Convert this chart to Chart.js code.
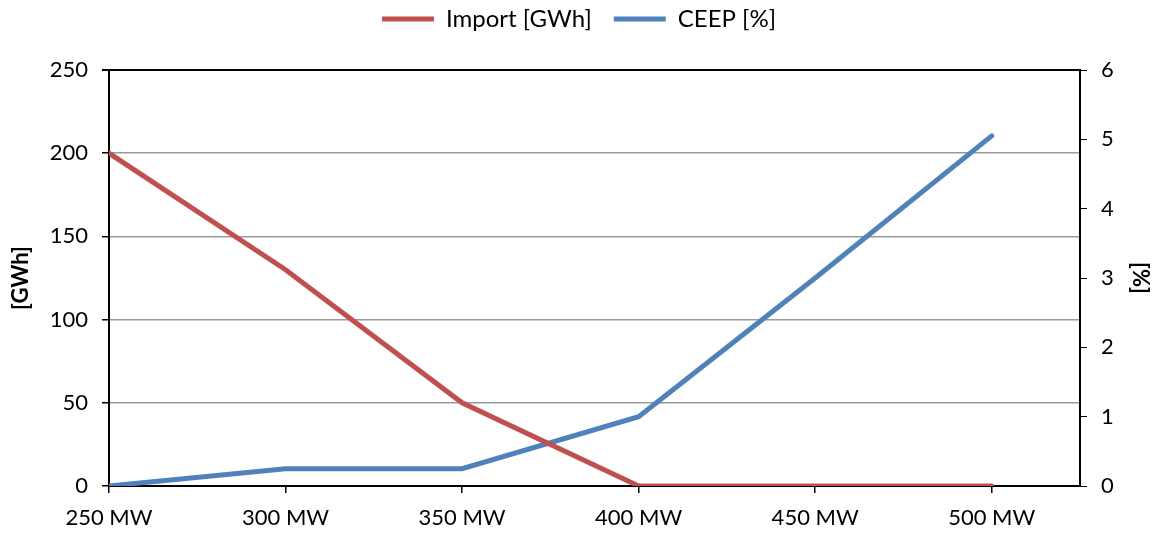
<!DOCTYPE html>
<html>
<head>
<meta charset="utf-8">
<script src="https://cdn.jsdelivr.net/npm/chart.js@4"></script>
<style>
  body { margin: 0; background: #fff; }
  #wrap { width: 1158px; height: 534px; }
</style>
</head>
<body>
<div id="wrap"><canvas id="chart"></canvas></div>
<script>
const capacityMW = [250, 300, 350, 400, 450, 500];
const importGWh = [200, 130, 50, 0, 0, 0];
const ceepPct = [0, 0.25, 0.25, 1.0, 3.0, 5.05];

const RED = '#C0504D';
const BLUE = '#4F81BD';
const FONT = 'Lato, "Open Sans", sans-serif';
const TOP_PAD = -15;

function pairs(xs, ys) {
  return xs.map((x, i) => ({ x: x, y: ys[i] }));
}

// leave the legend band the height Excel gives it
const legendGap = {
  id: 'legendGap',
  beforeInit(chart) {
    const fit = chart.legend.fit;
    chart.legend.fit = function () {
      fit.bind(chart.legend)();
      this.height = 70 - TOP_PAD;
    };
  }
};

new Chart(document.getElementById('chart'), {
  type: 'line',
  data: {
    datasets: [{
      label: 'Import [GWh]',
      data: pairs(capacityMW, importGWh),
      borderColor: RED,
      backgroundColor: RED,
      borderWidth: 5,
      borderCapStyle: 'round',
      pointRadius: 0,
      yAxisID: 'y'
    }, {
      label: 'CEEP [%]',
      data: pairs(capacityMW, ceepPct),
      borderColor: BLUE,
      backgroundColor: BLUE,
      borderWidth: 5,
      borderCapStyle: 'round',
      pointRadius: 0,
      yAxisID: 'y1'
    }]
  },
  options: {
    responsive: true,
    maintainAspectRatio: false,
    animation: false,
    layout: { padding: { top: TOP_PAD, right: 0, bottom: 0, left: 0 } },
    plugins: {
      legend: {
        position: 'top',
        labels: {
          usePointStyle: true,
          pointStyle: 'line',
          pointStyleWidth: 52,
          boxHeight: 5,
          padding: 22,
          color: '#000',
          font: { family: FONT, size: 24 }
        }
      },
      tooltip: { enabled: false }
    },
    scales: {
      x: {
        type: 'linear',
        min: 250,
        max: 525,
        afterBuildTicks: axis => {
          axis.ticks = capacityMW.map(v => ({ value: v }));
        },
        afterFit: s => { s.height = 48; },
        ticks: {
          color: '#000',
          font: { family: FONT, size: 22 },
          padding: 12,
          maxRotation: 0,
          callback: v => v + ' MW'
        },
        grid: { drawOnChartArea: false, tickLength: 7, tickColor: '#000', lineWidth: 1.5 },
        border: { color: '#000', width: 2 }
      },
      y: {
        position: 'left',
        min: 0,
        max: 250,
        afterFit: s => { s.width = 109; },
        ticks: {
          stepSize: 50,
          color: '#000',
          padding: 14,
          font: { family: FONT, size: 22 }
        },
        title: {
          display: true,
          text: '[GWh]',
          color: '#000',
          font: { family: FONT, size: 22, weight: 'bold' },
          padding: { top: 8, bottom: 0 }
        },
        grid: {
          color: c => c.tick && c.tick.value === 250 ? '#000' : '#9a9a9a',
          lineWidth: c => c.tick && c.tick.value === 250 ? 2 : 1.5,
          tickLength: 7,
          tickColor: '#000'
        },
        border: { color: '#000', width: 2 }
      },
      y1: {
        position: 'right',
        min: 0,
        max: 6,
        afterFit: s => { s.width = 78; },
        ticks: {
          stepSize: 1,
          color: '#000',
          padding: 14,
          font: { family: FONT, size: 22 }
        },
        title: {
          display: true,
          text: '[%]',
          color: '#000',
          font: { family: FONT, size: 22, weight: 'bold' },
          padding: { top: 5, bottom: 0 }
        },
        grid: { drawOnChartArea: false, tickLength: 7, tickColor: '#000' },
        border: { color: '#000', width: 2 }
      }
    }
  },
  plugins: [legendGap]
});
</script>
</body>
</html>
